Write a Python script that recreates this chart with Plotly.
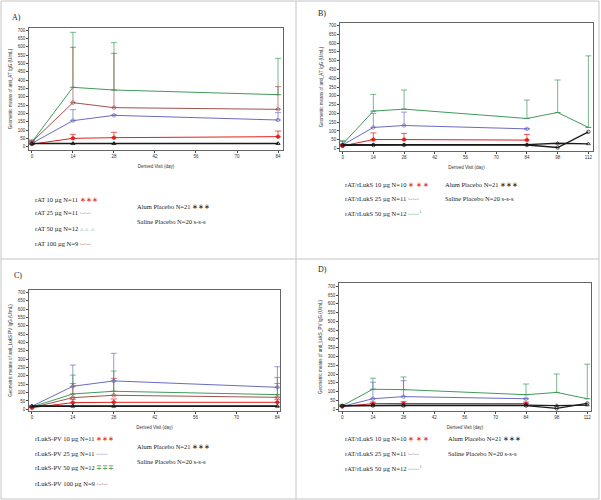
import plotly.graph_objects as go

W, H = 601, 500

# ---------------- data ----------------
days_A = [0, 14, 28, 84]
A_10 = [15, 50, 54, 60];      A_10_up = [20, 74, 86, 94]
A_25 = [20, 156, 188, 160];   A_25_up = [30, 222, 190, 204]
A_50 = [28, 356, 340, 312];   A_50_up = [38, 686, 624, 530]
A_100 = [28, 264, 234, 224];  A_100_up = [40, 596, 560, 360]
A_alum = [18, 18, 18, 18]
A_saline = [20, 20, 20, 20]

days_B = [0, 14, 28, 84, 98, 112]
B_days3 = [0, 14, 28, 84]
B_10 = [15, 51, 51, 48];      B_10_up = [22, 89, 86, 80]
B_25 = [20, 120, 131, 112];   B_25_up = [40, 200, 207, 112]
B_50 = [25, 213, 224, 171, 205, 120]; B_50_up = [45, 308, 333, 276, 390, 527]
B_alum = [22, 22, 22, 22, 30, 27]
B_saline = [18, 20, 20, 20, 6, 95]

days_C = [0, 14, 28, 84]
C_10 = [10, 40, 42, 42];      C_10_up = [14, 60, 62, 60]
C_25 = [18, 138, 170, 132];   C_25_up = [24, 265, 335, 255]
C_50 = [14, 92, 108, 88];     C_50_up = [20, 205, 229, 191]
C_100 = [10, 70, 84, 72];     C_100_up = [16, 155, 185, 155]
C_alum = [18, 18, 18, 18]
C_saline = [20, 20, 20, 20]

days_D = [0, 14, 28, 84, 98, 112]
D_10 = [15, 31, 32, 31];      D_10_up = [20, 40, 42, 40]
D_25 = [15, 59, 71, 59];      D_25_up = [22, 153, 162, 59]
D_50 = [19, 113, 111, 82, 95, 59]; D_50_up = [26, 176, 183, 143, 200, 256]
D_alum = [20, 22, 22, 22, 20, 23]
D_saline = [18, 20, 20, 20, 4, 32]

ticks_A = [0, 14, 28, 42, 56, 70, 84]
ticks_B = [0, 14, 28, 42, 56, 70, 84, 98, 112]
y_ticks = list(range(0, 701, 50))

RED = "#e0201c"; BLUE = "#6b6bc2"; GREEN = "#3f9a5c"; BROWN = "#a0524c"; BLACK = "#1a1a1a"

panels = [
    dict(key="A", xdom=(29, 283), ydom=(28, 150), xr=[-1, 85.7], yr=[-20, 712], ticks=ticks_A,
         series=[(days_A, A_50, A_50_up, GREEN, "line-ew"), (days_A, A_100, A_100_up, BROWN, "circle-open"),
                 (days_A, A_25, A_25_up, BLUE, "circle-open"), (days_A, A_10, A_10_up, RED, "circle"),
                 (days_A, A_alum, None, BLACK, "triangle-up-open"), (days_A, A_saline, None, BLACK, "triangle-up-open")],
         ytitle="Geometric means of anti_AT IgG (U/mL)"),
    dict(key="B", xdom=(340, 593), ydom=(23, 151), xr=[-1.2, 114.1], yr=[-14, 714], ticks=ticks_B,
         series=[(days_B, B_50, B_50_up, GREEN, "line-ew"), (B_days3, B_25, B_25_up, BLUE, "circle-open"),
                 (B_days3, B_10, B_10_up, RED, "circle"),
                 (days_B, B_alum, None, BLACK, "triangle-up-open"), (days_B, B_saline, None, BLACK, "circle-open")],
         ytitle="Geometric means of anti_AT IgG (U/mL)"),
    dict(key="C", xdom=(29, 280), ydom=(290, 411), xr=[-1, 84.9], yr=[-10, 714], ticks=ticks_A,
         series=[(days_C, C_25, C_25_up, BLUE, "circle-open"), (days_C, C_50, C_50_up, GREEN, "line-ew"),
                 (days_C, C_100, C_100_up, BROWN, "circle-open"), (days_C, C_10, C_10_up, RED, "circle"),
                 (days_C, C_alum, None, BLACK, "triangle-up-open"), (days_C, C_saline, None, BLACK, "triangle-up-open")],
         ytitle="Geometric means of anti_LukS PV IgG (U/mL)"),
    dict(key="D", xdom=(339, 591), ydom=(283, 411), xr=[-1.5, 113.7], yr=[-11, 719], ticks=ticks_B,
         series=[(days_D, D_50, D_50_up, GREEN, "line-ew"), (B_days3, D_25, D_25_up, BLUE, "circle-open"),
                 (B_days3, D_10, D_10_up, RED, "circle"),
                 (days_D, D_alum, None, BLACK, "triangle-up-open"), (days_D, D_saline, None, BLACK, "circle-open")],
         ytitle="Geometric means of anti_LukS_PV IgG (U/mL)"),
]

fig = go.Figure()
layout = dict(width=W, height=H, margin=dict(l=0, r=0, t=0, b=0), paper_bgcolor="white",
              plot_bgcolor="white", showlegend=False)
annotations = []
shapes = []

tickfont = dict(family="Liberation Sans, Arial", size=4.5, color="#333")
titlefont = dict(family="Liberation Sans, Arial", size=4.5, color="#333")

for i, p in enumerate(panels):
    n = "" if i == 0 else str(i + 1)
    xa, ya = "xaxis" + n, "yaxis" + n
    layout[xa] = dict(domain=[p["xdom"][0] / W, p["xdom"][1] / W], range=p["xr"], tickvals=p["ticks"],
                      ticks="outside", ticklen=2, tickwidth=0.6, tickcolor="#444", tickfont=tickfont,
                      showgrid=False, zeroline=False, showline=True, linecolor="#666", linewidth=0.8,
                      mirror=True, anchor="y" + n,
                      title=dict(text="Derived Visit (day)", font=titlefont, standoff=6))
    layout[ya] = dict(domain=[1 - p["ydom"][1] / H, 1 - p["ydom"][0] / H], range=p["yr"], tickvals=y_ticks,
                      ticks="outside", ticklen=2, tickwidth=0.6, tickcolor="#444", tickfont=tickfont,
                      showgrid=False, zeroline=False, showline=True, linecolor="#666", linewidth=0.8,
                      mirror=True, anchor="x" + n,
                      title=dict(text=p["ytitle"], font=titlefont, standoff=5))
    for days, vals, up, col, sym in p["series"]:
        err = None
        if up is not None:
            err = dict(type="data", symmetric=False, array=[u - v for u, v in zip(up, vals)],
                       arrayminus=[0] * len(vals), color=col, thickness=0.7, width=3)
        fig.add_trace(go.Scatter(x=days, y=vals, mode="lines+markers", xaxis="x" + n, yaxis="y" + n,
                                 line=dict(color=col, width=1.3 if col == BLACK else 1.0),
                                 marker=dict(symbol=sym, size=3.5, color=col, line=dict(color=col, width=0.7)),
                                 error_y=err))

# panel labels
for lab, x, y in [("A)", 10, 11), ("B)", 322, 7), ("C)", 12, 275), ("D)", 322, 269)]:
    annotations.append(dict(x=x / W, y=1 - y / H, xref="paper", yref="paper", text=lab, showarrow=False,
                            font=dict(family="Liberation Serif, Times New Roman", size=8, color="#222")))

# legends
def leg(text, x, y, mk, col):
    annotations.append(dict(x=x / W, y=1 - y / H, xref="paper", yref="paper", xanchor="left",
                            text=text + " <span style='color:%s'>%s</span>" % (col, mk), showarrow=False,
                            font=dict(family="Liberation Serif, Times New Roman", size=6.5, color="#222")))

legA = [("rAT 10 µg N=11", "∗∗∗", RED), ("rAT 25 µg N=11", "◦-◦-◦", BLUE),
        ("rAT 50 µg N=12", "▵ ▵ ▵", "#b8c8bc"), ("rAT 100 µg N=9", "◦-◦-◦", BROWN)]
for k, (t, m, c) in enumerate(legA):
    leg(t, 33, [199, 213, 229, 243][k], m, c)
legC = [("rLukS-PV 10 µg N=11", "∗∗∗", RED), ("rLukS-PV 25 µg N=11", "◦-◦-◦", BLUE),
        ("rLukS-PV 50 µg N=12", "∓∓∓", GREEN), ("rLukS-PV 100 µg N=9", "◦-◦-◦", BROWN)]
for k, (t, m, c) in enumerate(legC):
    leg(t, 33, [444, 459, 473, 489][k], m, c)
legB = [("rAT/rLukS 10 µg N=10", "∗ ∗ ∗", RED), ("rAT/rLukS 25 µg N=11", "◦-◦-◦", BLUE),
        ("rAT/rLukS 50 µg N=12", "◦-◦-◦<sup>1</sup>", GREEN)]
for k, (t, m, c) in enumerate(legB):
    leg(t, 343, [184, 198, 213][k], m, c)
    leg(t, 343, [444, 459, 474][k], m, c)
for (x, ys) in [(135, (207, 222)), (443, (184, 198)), (135, (452, 467)), (446, (444, 459))]:
    leg("Alum Placebo N=21", x, ys[0], "∗∗∗", BLACK)
    leg("Saline Placebo N=20", x, ys[1], "s-s-s", BLACK)

# frame
fc = "#c4c4c4"
shapes += [dict(type="rect", xref="paper", yref="paper", x0=1 / W, x1=599 / W, y0=1 - 499 / H, y1=1 - 1 / H,
                line=dict(color=fc, width=1)),
           dict(type="line", xref="paper", yref="paper", x0=296 / W, x1=296 / W, y0=1 - 499 / H, y1=1 - 1 / H,
                line=dict(color=fc, width=1)),
           dict(type="line", xref="paper", yref="paper", x0=1 / W, x1=599 / W, y0=1 - 259 / H, y1=1 - 259 / H,
                line=dict(color=fc, width=1))]

layout["annotations"] = annotations
layout["shapes"] = shapes
fig.update_layout(**layout)
fig.write_html("out.html", config={"displayModeBar": False},
               post_script="document.body.style.margin='0px';document.body.style.padding='0px';")
